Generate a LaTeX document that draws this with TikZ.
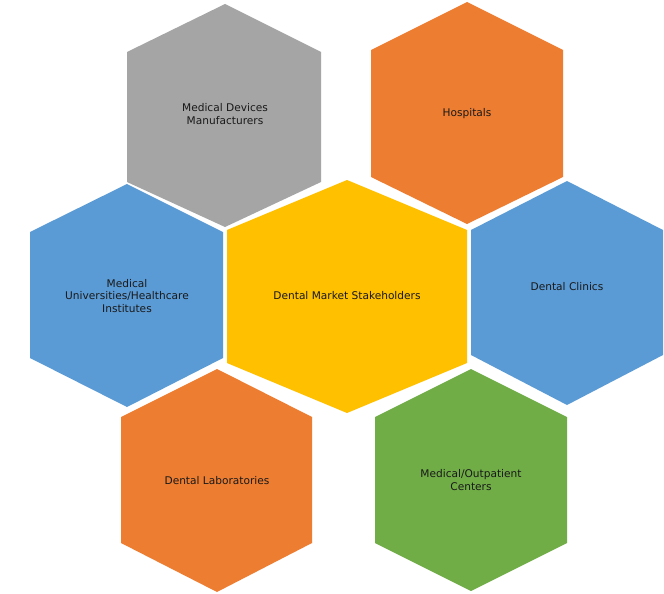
\documentclass[tikz,border=0pt]{standalone}
\usepackage{fontspec}
\setmainfont{DejaVu Sans}
\definecolor{hgray}{HTML}{A5A5A5}
\definecolor{horange}{HTML}{ED7D31}
\definecolor{hblue}{HTML}{5B9BD5}
\definecolor{hyellow}{HTML}{FFC000}
\definecolor{hgreen}{HTML}{70AD47}
\begin{document}
\begin{tikzpicture}[x=1pt,y=-1pt,
  lbl/.style={align=center,font=\fontsize{10.6}{12.5}\selectfont,text=black!90,inner sep=0pt}]
\useasboundingbox (0,0) rectangle (664,594);
\fill[white] (0,0) rectangle (664,594);
% hexagons
\fill[hgray]   (225,4)   -- (321,52)  -- (321,182) -- (225,227) -- (127,182) -- (127,52)  -- cycle;
\fill[horange] (467,2)   -- (563,50)  -- (563,177) -- (467,224) -- (371,177) -- (371,50)  -- cycle;
\fill[hblue]   (127,184) -- (223,232) -- (223,358) -- (127,407) -- (30,358)  -- (30,232)  -- cycle;
\fill[hyellow] (347,180) -- (467,230) -- (467,363) -- (347,413) -- (227,363) -- (227,230) -- cycle;
\fill[hblue]   (567,181) -- (663,230) -- (663,355) -- (567,405) -- (471,355) -- (471,230) -- cycle;
\fill[horange] (217,369) -- (312,417) -- (312,543) -- (217,592) -- (121,543) -- (121,417) -- cycle;
\fill[hgreen]  (471,369) -- (567,417) -- (567,543) -- (471,591) -- (375,543) -- (375,417) -- cycle;
% labels
\node[lbl] (mdm) at (225,114) {Medical Devices\\Manufacturers};
\node[lbl] (hos) at (467,114) {Hospitals};
\node[lbl] (muh) at (127,296) {Medical\\Universities/Healthcare\\Institutes};
\node[lbl] (dms) at (347,296) {Dental Market Stakeholders};
\node[lbl] (dcl) at (567,287) {Dental Clinics};
\node[lbl] (dla) at (217,481) {Dental Laboratories};
\node[lbl] (moc) at (471,480) {Medical/Outpatient\\Centers};
\end{tikzpicture}
\end{document}
